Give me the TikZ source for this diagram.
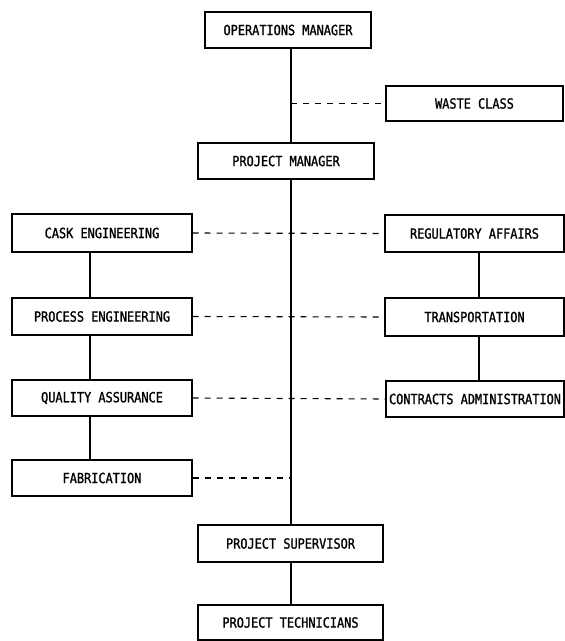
\documentclass[tikz,border=0pt]{standalone}
\usepackage{fontspec}
\newfontfamily\plotfont[FakeStretch=0.85,FakeBold=1.2]{DejaVu Sans Mono}
\begin{document}
\begin{tikzpicture}[x=1pt,y=-1pt,
  box/.style={draw, line width=1.1pt, rectangle, inner sep=0pt, font=\plotfont\fontsize{14}{15}\selectfont},
  link/.style={line width=1.1pt},
  dashlink/.style={line width=1.1pt, dash pattern=on 6pt off 6pt}]
\useasboundingbox (0,0) rectangle (565,641);
\coordinate (spine) at (291,0);
\coordinate (lcol) at (90,0);
\coordinate (rcol) at (479,0);
\node[box, minimum width=166pt, minimum height=36pt] (om) at (288,30) {OPERATIONS MANAGER};
\node[box, minimum width=177pt, minimum height=35pt] (wc) at (474.5,103.5) {WASTE CLASS};
\node[box, minimum width=176pt, minimum height=36pt] (pm) at (286,161) {PROJECT MANAGER};
\node[box, minimum width=180pt, minimum height=38pt] (cask) at (102,233) {CASK ENGINEERING};
\node[box, minimum width=179pt, minimum height=37pt] (ra) at (474.5,233.5) {REGULATORY AFFAIRS};
\node[box, minimum width=180pt, minimum height=37pt] (pe) at (102,316.5) {PROCESS ENGINEERING};
\node[box, minimum width=179pt, minimum height=38pt] (tr) at (474.5,317) {TRANSPORTATION};
\node[box, minimum width=180pt, minimum height=36pt] (qa) at (102,398) {QUALITY ASSURANCE};
\node[box, minimum width=178pt, minimum height=36pt] (ca) at (475,399) {CONTRACTS ADMINISTRATION};
\node[box, minimum width=180pt, minimum height=36pt] (fab) at (102,478) {FABRICATION};
\node[box, minimum width=185pt, minimum height=37pt] (ps) at (290.5,543.5) {PROJECT SUPERVISOR};
\node[box, minimum width=185pt, minimum height=35pt] (pt) at (290.5,622.5) {PROJECT TECHNICIANS};
% main spine
\draw[link] (om.south -| spine) -- (pm.north -| spine);
\draw[link] (pm.south -| spine) -- (ps.north -| spine);
\draw[link] (ps.south -| spine) -- (pt.north -| spine);
% left column
\draw[link] (cask.south -| lcol) -- (pe.north -| lcol);
\draw[link] (pe.south -| lcol) -- (qa.north -| lcol);
\draw[link] (qa.south -| lcol) -- (fab.north -| lcol);
% right column
\draw[link] (ra.south -| rcol) -- (tr.north -| rcol);
\draw[link] (tr.south -| rcol) -- (ca.north -| rcol);
% dashed staff links
\draw[dashlink] (wc.west -| spine) -- (wc.west);
\draw[dashlink] (cask.east) -- (ra.west);
\draw[dashlink] (pe.east) -- (tr.west);
\draw[dashlink] (qa.east) -- (ca.west);
\draw[dashlink] (fab.east) -- (fab.east -| spine);
\end{tikzpicture}
\end{document}
